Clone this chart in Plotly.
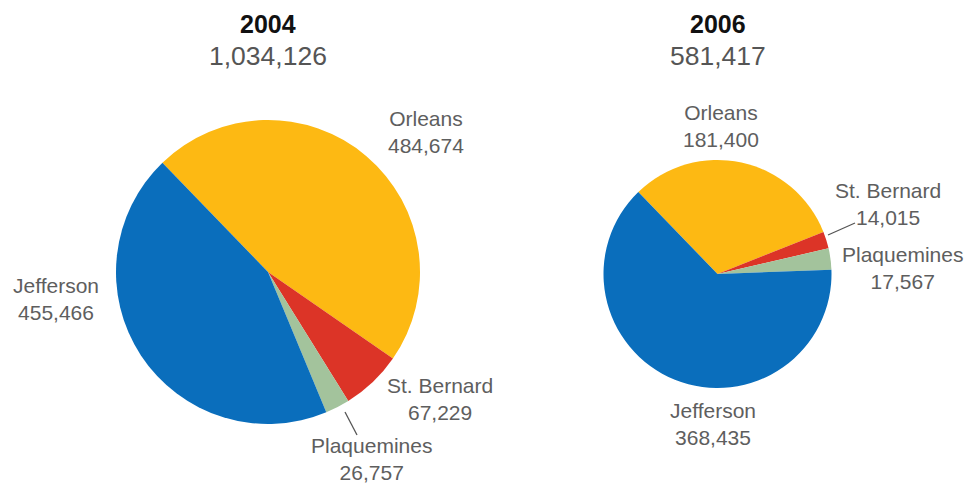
import plotly.graph_objects as go

W, H = 966, 485

parishes = ["Orleans", "St. Bernard", "Plaquemines", "Jefferson"]
pop_2004 = [484674, 67229, 26757, 455466]
pop_2006 = [181400, 14015, 17567, 368435]
years = ["2004", "2006"]
colors = ["#FDB913", "#DC3427", "#A3C39C", "#0A6EBC"]

def px_x(x):
    return x / W

def px_y(y):
    return 1 - y / H

def domain(cx, cy, r):
    return dict(x=[px_x(cx - r), px_x(cx + r)], y=[px_y(cy + r), px_y(cy - r)])

fig = go.Figure()
fig.add_trace(go.Pie(
    labels=parishes, values=pop_2004, sort=False, direction="clockwise",
    rotation=-44, marker=dict(colors=colors, line=dict(width=0)),
    textinfo="none", hoverinfo="label+value", domain=domain(268, 272, 152),
    showlegend=False,
))
fig.add_trace(go.Pie(
    labels=parishes, values=pop_2006, sort=False, direction="clockwise",
    rotation=-44, marker=dict(colors=colors, line=dict(width=0)),
    textinfo="none", hoverinfo="label+value", domain=domain(717.5, 274, 114),
    showlegend=False,
))

FONT = "Liberation Sans, Arial, Helvetica, sans-serif"
LABEL_COLOR = "#5e5e5e"

annotations = []

def add_text(text, x, y, size, color, bold=False):
    if bold:
        text = f"<b>{text}</b>"
    annotations.append(dict(
        text=text, x=px_x(x), y=px_y(y), xref="paper", yref="paper",
        xanchor="center", yanchor="middle", showarrow=False,
        font=dict(family=FONT, size=size, color=color),
    ))

# Titles
totals = [sum(pop_2004), sum(pop_2006)]
title_x = [268, 717.5]
for yr, tot, tx in zip(years, totals, title_x):
    add_text(yr, tx, 24, 25, "#111111", bold=True)
    add_text(f"{tot:,}", tx, 56, 26.5, "#555555")

# Slice labels (centre positions in pixels)
pos_2004 = {"Orleans": (426, 132), "St. Bernard": (440, 399),
            "Plaquemines": (371, 459), "Jefferson": (56, 299)}
pos_2006 = {"Orleans": (721, 126), "St. Bernard": (888, 204),
            "Plaquemines": (902, 268), "Jefferson": (712.5, 424)}

for name, val in zip(parishes, pop_2004):
    x, y = pos_2004[name]
    add_text(f"{name}<br>{val:,}", x, y, 21, LABEL_COLOR)
for name, val in zip(parishes, pop_2006):
    x, y = pos_2006[name]
    add_text(f"{name}<br>{val:,}", x, y, 21, LABEL_COLOR)

shapes = [
    dict(type="line", xref="paper", yref="paper",
         x0=px_x(345), y0=px_y(412), x1=px_x(357), y1=px_y(435),
         line=dict(color="#555555", width=1.3)),
    dict(type="line", xref="paper", yref="paper",
         x0=px_x(828), y0=px_y(235), x1=px_x(855), y1=px_y(223),
         line=dict(color="#555555", width=1.3)),
]

fig.update_layout(
    width=W, height=H,
    margin=dict(l=0, r=0, t=0, b=0),
    paper_bgcolor="white", plot_bgcolor="white",
    annotations=annotations, shapes=shapes,
)

fig.write_html("out.html", config={"displayModeBar": False})
